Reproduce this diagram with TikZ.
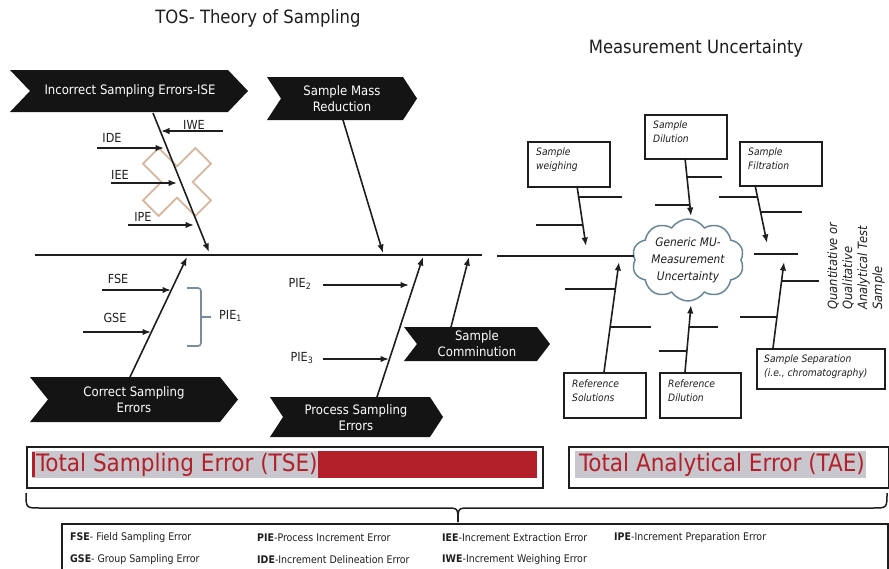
\documentclass[tikz,border=0pt]{standalone}
\usepackage{fontspec}
\setmainfont{DejaVu Sans Condensed}
\usetikzlibrary{arrows.meta,shapes.symbols,calc}
\definecolor{tsered}{HTML}{B3202A}
\definecolor{hlgray}{HTML}{C8C7CD}
\definecolor{xtan}{HTML}{D6B59D}
\definecolor{slate}{HTML}{7A8C9C}
\definecolor{cloudc}{HTML}{6A8795}
\definecolor{inkc}{HTML}{1E1E1E}
\newcommand\chevpath[5]{\fill[chevfill] (#1,#2) -- (#3-#5,#2) -- (#3,{(#2+#4)/2}) -- (#3-#5,#4) -- (#1,#4) -- (#1+#5,{(#2+#4)/2}) -- cycle;}
\tikzset{
  chevfill/.style={fill=black!92},
  chevtext/.style={text=white, align=center, inner sep=0pt, font=\fontsize{13}{16}\selectfont},
  lbl/.style={inner sep=0pt, text=inkc, font=\fontsize{12.5}{14}\selectfont},
  bone/.style={line width=1.7pt, draw=inkc},
  arr/.style={line width=1.6pt, draw=inkc, -{Latex[length=8.5pt,width=6.5pt]}},
  mubox/.style={draw=inkc, line width=1.5pt, anchor=north west, inner sep=0pt},
  mutext/.style={anchor=north west, align=left, inner sep=0pt, text=inkc, font=\fontsize{10.2}{13.5}\selectfont\itshape},
  title/.style={inner sep=0pt, text=inkc, font=\fontsize{18.3}{22}\selectfont},
  legend/.style={anchor=west, inner sep=0pt, text=inkc, font=\fontsize{10.5}{12}\selectfont},
  bigred/.style={anchor=west, inner sep=0pt, text=tsered, font=\fontsize{24}{28}\selectfont},
}
\begin{document}
\begin{tikzpicture}[x=1pt,y=-1pt]
\useasboundingbox (0,0) rectangle (889,568);
\clip (0,0) rectangle (889,568);

% titles
\node[title] (tos) at (258,18) {TOS- Theory of Sampling};
\node[title] (mut) at (696,48) {Measurement Uncertainty};

% tan cross
\begin{scope}[shift={(177,182)}, rotate=45]
  \draw[xtan, line width=1.8pt] (-11,-37) -- (11,-37) -- (11,-11) -- (37,-11) -- (37,11) -- (11,11) -- (11,37) -- (-11,37) -- (-11,11) -- (-37,11) -- (-37,-11) -- (-11,-11) -- cycle;
\end{scope}

% spine
\coordinate (spA) at (35,255);
\coordinate (spB) at (482,255);
\draw[bone, line width=1.9pt] (spA) -- (spB);

% chevrons
\chevpath{10}{70}{248}{112}{20}
\node[chevtext] (ise) at (130,91) {Incorrect Sampling Errors-ISE};
\chevpath{267}{77}{417}{120}{14}
\node[chevtext] (smr) at (342,99) {Sample Mass\\Reduction};
\chevpath{30}{377}{238}{422}{18}
\node[chevtext] (cse) at (134,400) {Correct Sampling\\Errors};
\chevpath{270}{397}{443}{437}{13}
\node[chevtext] (pse) at (356,418) {Process Sampling\\Errors};
\chevpath{404}{327}{550}{361}{13}
\node[chevtext] (scom) at (477,344) {Sample\\Comminution};

% ISE bone
\coordinate (iseS) at (153,113);
\coordinate (iseE) at (209,252);
\draw[arr] (iseS) -- (iseE);
\coordinate (iweA) at (223,131); \coordinate (iweB) at (161,131);
\draw[arr] (iweA) -- (iweB);
\node[lbl] (iwe) at (194,125) {IWE};
\coordinate (ideA) at (97,148); \coordinate (ideB) at (164,148);
\draw[arr] (ideA) -- (ideB);
\node[lbl] (ide) at (112,138) {IDE};
\coordinate (ieeA) at (111,183); \coordinate (ieeB) at (177,183);
\draw[arr] (ieeA) -- (ieeB);
\node[lbl] (iee) at (120,175) {IEE};
\coordinate (ipeA) at (128,225); \coordinate (ipeB) at (194,225);
\draw[arr] (ipeA) -- (ipeB);
\node[lbl] (ipe) at (143,217) {IPE};

% Correct sampling bone
\coordinate (cseS) at (130,377);
\coordinate (cseE) at (187,257);
\draw[arr] (cseS) -- (cseE);
\coordinate (fseA) at (102,290); \coordinate (fseB) at (171,290);
\draw[arr] (fseA) -- (fseB);
\node[lbl] (fse) at (118,279) {FSE};
\coordinate (gseA) at (83,332); \coordinate (gseB) at (151,332);
\draw[arr] (gseA) -- (gseB);
\node[lbl] (gse) at (115,318) {GSE};
\coordinate (brT) at (187,288); \coordinate (brB) at (187,346); \coordinate (brM) at (211,317);
\draw[slate, line width=1.6pt, rounded corners=3] (brT) -- (201,288) -- (201,346) -- (brB);
\draw[slate, line width=1.6pt] (201,317) -- (brM);
\node[lbl, anchor=west] (pie1) at (219,316) {PIE\textsubscript{1}};

% Sample mass reduction
\coordinate (smrS) at (343,120);
\coordinate (smrE) at (383,253);
\draw[arr] (smrS) -- (smrE);

% Process sampling
\coordinate (pseS) at (377,397);
\coordinate (pseE) at (423,257);
\draw[arr] (pseS) -- (pseE);
\coordinate (p2A) at (323,285); \coordinate (p2B) at (409,285);
\draw[arr] (p2A) -- (p2B);
\node[lbl] (pie2) at (300,284) {PIE\textsubscript{2}};
\coordinate (p3A) at (323,359); \coordinate (p3B) at (389,359);
\draw[arr] (p3A) -- (p3B);
\node[lbl] (pie3) at (302,358) {PIE\textsubscript{3}};

% Comminution
\coordinate (scS) at (451,327);
\coordinate (scE) at (469,257);
\draw[arr] (scS) -- (scE);

% ===== Right part =====
\node[cloud, cloud puffs=10, cloud puff arc=115, cloud ignores aspect, draw=cloudc, line width=1.5pt, fill=white, minimum width=112, minimum height=82, inner sep=0pt] (mu) at (688,260) {};
\node[align=center, inner sep=0pt, text=inkc, font=\fontsize{11.8}{17}\selectfont\itshape] (mutxt) at (688,260) {Generic MU-\\Measurement\\Uncertainty};

\coordinate (rspA) at (497,256);
\draw[bone, line width=1.9pt] (rspA) -- (rspA -| mu.west);
\coordinate (sp2A) at (754,254); \coordinate (sp2B) at (798,254);
\draw[bone, line width=1.9pt] (sp2A) -- (sp2B);

% Sample weighing
\node[mubox, minimum width=82, minimum height=45] (sw) at (527,141) {};
\node[mutext] (swt) at (536,148) {Sample\\weighing};
\coordinate (swA) at (577,186); \coordinate (swB) at (586,246);
\draw[arr] (swA) -- (swB);
\draw[bone] ($(swA)!0.183!(swB)$) -- ++(43,0);
\draw[bone] ($(swA)!0.65!(swB)$) -- ++(-47,0);

% Sample dilution
\node[mubox, minimum width=82, minimum height=44] (sd) at (644,114) {};
\node[mutext] (sdt) at (653,121) {Sample\\Dilution};
\coordinate (sdA) at (685,158); \coordinate (sdB) at (691,216);
\draw[arr] (sdA) -- (sdB);
\draw[bone] ($(sdA)!0.33!(sdB)$) -- ++(35,0);
\draw[bone] ($(sdA)!0.81!(sdB)$) -- ++(-35,0);

% Sample filtration
\node[mubox, minimum width=82, minimum height=44] (sf) at (739,141) {};
\node[mutext] (sft) at (748,148) {Sample\\Filtration};
\coordinate (sfA) at (755,185); \coordinate (sfB) at (767,243);
\draw[arr] (sfA) -- (sfB);
\draw[bone] ($(sfA)!0.21!(sfB)$) -- ++(-39,0);
\draw[bone] ($(sfA)!0.47!(sfB)$) -- ++(41,0);

% Sample separation
\node[mubox, minimum width=128, minimum height=40] (ss) at (756,348) {};
\node[mutext] (sst) at (764,355) {Sample Separation\\(i.e., chromatography)};
\coordinate (ssA) at (773,348); \coordinate (ssB) at (784,262);
\draw[arr] (ssA) -- (ssB);
\draw[bone] ($(ssA)!0.78!(ssB)$) -- ++(37,0);
\draw[bone] ($(ssA)!0.36!(ssB)$) -- ++(-37,0);

% Reference solutions
\node[mubox, minimum width=82, minimum height=45] (rs) at (563,372) {};
\node[mutext] (rst) at (572,380) {Reference\\Solutions};
\coordinate (rsA) at (604,372); \coordinate (rsB) at (619,262);
\draw[arr] (rsA) -- (rsB);
\draw[bone] ($(rsA)!0.755!(rsB)$) -- ++(-50,0);
\draw[bone] ($(rsA)!0.41!(rsB)$) -- ++(41,0);

% Reference dilution
\node[mubox, minimum width=81, minimum height=45] (rd) at (659,372) {};
\node[mutext] (rdt) at (668,380) {Reference\\Dilution};
\coordinate (rdA) at (685,372); \coordinate (rdB) at (691,305);
\draw[arr] (rdA) -- (rdB);
\draw[bone] ($(rdA)!0.31!(rdB)$) -- ++(-28,0);
\draw[bone] ($(rdA)!0.67!(rdB)$) -- ++(29,0);

% rotated label
\node[rotate=90, align=left, inner sep=0pt, text=inkc, font=\fontsize{12.8}{15}\selectfont\itshape] (qs) at (856,266) {Quantitative or\\Qualitative\\Analytical Test\\Sample};

% ===== Bottom =====
\node[draw=inkc, line width=1.5pt, anchor=north west, minimum width=516, minimum height=41, inner sep=0pt] (tsebox) at (26,446) {};
\fill[hlgray] (32,451) rectangle (318,478);
\fill[tsered] (318,451) rectangle (537,478);
\fill[tsered] (32,452) rectangle (34.5,477);
\node[bigred] (tse) at (36,465) {Total Sampling Error (TSE)};

\node[draw=inkc, line width=1.5pt, anchor=north west, minimum width=320, minimum height=41, inner sep=0pt] (taebox) at (568,446) {};
\fill[hlgray] (575,451) rectangle (866,478);
\node[bigred] (tae) at (579,465) {Total Analytical Error (TAE)};

% brace
\coordinate (brL) at (26,493); \coordinate (brR) at (887,493); \coordinate (brTip) at (458,522);
\draw[inkc, line width=1.5pt] (brL) .. controls (26,508) .. (40,508) -- (446,508) .. controls (458,508) .. (brTip);
\draw[inkc, line width=1.5pt] (brR) .. controls (887,508) .. (873,508) -- (470,508) .. controls (458,508) .. (brTip);

% legend
\node[draw=inkc, line width=1.5pt, anchor=north west, minimum width=826, minimum height=60, inner sep=0pt] (leg) at (61,523) {};
\node[legend] (l1) at (70,538) {\textbf{FSE}- Field Sampling Error};
\node[legend] (l2) at (257,538) {\textbf{PIE}-Process Increment Error};
\node[legend] (l3) at (442,538) {\textbf{IEE}-Increment Extraction Error};
\node[legend] (l4) at (614,538) {\textbf{IPE}-Increment Preparation Error};
\node[legend] (l5) at (70,560) {\textbf{GSE}- Group Sampling Error};
\node[legend] (l6) at (257,560) {\textbf{IDE}-Increment Delineation Error};
\node[legend] (l7) at (442,560) {\textbf{IWE}-Increment Weighing Error};
\end{tikzpicture}
\end{document}
